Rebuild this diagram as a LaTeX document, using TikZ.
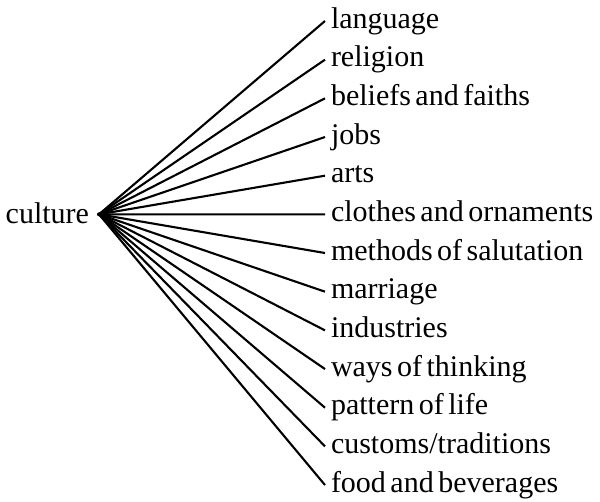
\documentclass[tikz,border=0pt]{standalone}
\usepackage{fontspec}
\setmainfont{Liberation Serif}[WordSpace=0.6]
\begin{document}
\begin{tikzpicture}[x=1pt,y=-1pt,
  lbl/.style={anchor=base west,inner sep=0pt,outer sep=0pt,font=\fontsize{30}{36}\selectfont},
  conn/.style={line width=2.1pt}]
\useasboundingbox (0,0) rectangle (600,501);
\node[circle,fill,inner sep=0pt,minimum size=4pt] (hub) at (99,214.3) {};
\node[lbl,anchor=base east] (culture) at (89,223) {culture};
\foreach \t [count=\i from 0] in {language,religion,beliefs and faiths,jobs,arts,clothes and ornaments,methods of salutation,marriage,industries,ways of thinking,pattern of life,customs/traditions,food and beverages}{
  \node[lbl] (t\i) at (331,{28+38.67*\i}) {\t};
  \draw[conn] (hub.center) -- ([shift={(-6pt,7pt)}]t\i.base west);
}
\end{tikzpicture}
\end{document}
